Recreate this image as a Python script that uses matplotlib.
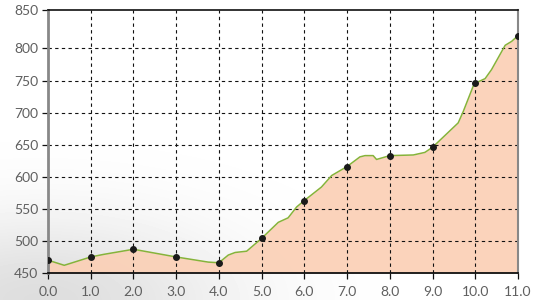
import matplotlib
matplotlib.use("Agg")
import matplotlib.pyplot as plt
import numpy as np

# elevation profile (km, m)
dist = [0.0, 0.38, 1.0, 1.3, 2.0, 3.0, 3.75, 4.0, 4.22, 4.38, 4.65, 5.0,
        5.39, 5.62, 5.82, 6.0, 6.4, 6.64, 7.0, 7.3, 7.42, 7.61, 7.69, 8.0,
        8.55, 8.82, 9.0, 9.6, 9.72, 9.95, 10.0, 10.23, 10.38, 10.7, 10.85, 11.0]
elev = [470, 462, 475, 479, 487, 475, 467, 466, 478, 482, 484, 504,
        529, 536, 553, 563, 584, 602, 616, 631, 633, 633, 627, 633,
        634, 638, 646, 684, 702, 741, 746, 753, 767, 805, 811, 820]
marker_km = [0, 1, 2, 3, 4, 5, 6, 7, 8, 9, 10, 11]

y_ticks = [450, 500, 550, 600, 650, 700, 750, 800]
x_ticks = list(range(12))

FILL = "#fbd0b6"
LINE = "#86b33a"
TXT = "#5f5f5f"

fig = plt.figure(figsize=(5.35, 3.0), dpi=100, facecolor="white")

# faint misty backdrop, lower-left
bg = fig.add_axes([0, 0, 1, 1], zorder=0)
yy, xx = np.mgrid[0:300, 0:535]
mist = np.exp(-(((xx - 40) / 190.0) ** 2 + ((yy - 300) / 85.0) ** 2))
bg.imshow(1 - 0.13 * mist, cmap="gray", vmin=0, vmax=1, aspect="auto",
          extent=[0, 535, 300, 0])
bg.axis("off")

ax = fig.add_axes([48 / 535, 27 / 300, 470 / 535, 263 / 300], zorder=1)
ax.patch.set_alpha(0)

ax.fill_between(dist, elev, 450, color=FILL, alpha=0.92, lw=0, zorder=1)
ax.plot(dist, elev, color=LINE, lw=1.1, zorder=3)
mk = [np.interp(k, dist, elev) for k in marker_km]
ax.scatter(marker_km, mk, s=16, color="#1a1a1a", zorder=4)

ax.set_xlim(0, 11)
ax.set_ylim(450, 860)
ax.set_xticks(x_ticks)
ax.set_xticklabels([f"{v:.1f}" for v in x_ticks])
ax.set_yticks(y_ticks + [860])
ax.set_yticklabels([str(v) for v in y_ticks] + ["850"])

for v in x_ticks[1:-1]:
    ax.axvline(v, color="#111111", lw=0.8, ls=(0, (3, 3)), zorder=2)
for v in y_ticks[1:]:
    ax.axhline(v, color="#111111", lw=0.8, ls=(0, (3, 3)), zorder=2)

ax.spines["left"].set_color("#888888")
ax.spines["left"].set_linewidth(2)
ax.spines["right"].set_color("#888888")
ax.spines["right"].set_linewidth(1.5)
ax.spines["top"].set_color("#111111")
ax.spines["top"].set_linewidth(1.2)
ax.spines["bottom"].set_color("#111111")
ax.spines["bottom"].set_linewidth(1.3)

ax.tick_params(axis="both", colors="#111111", length=4, width=0.9,
               labelsize=10, labelcolor=TXT)
ax.tick_params(axis="y", pad=3)
ax.tick_params(axis="x", pad=5)
for lab in ax.get_xticklabels() + ax.get_yticklabels():
    lab.set_fontfamily("Lato")

fig.savefig("out.png", dpi=100)
